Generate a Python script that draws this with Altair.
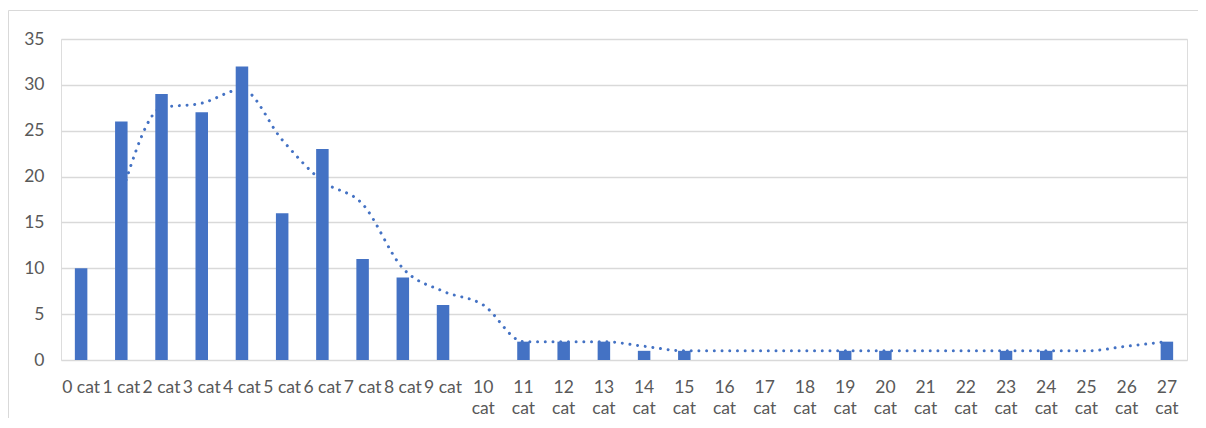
import altair as alt
import pandas as pd

categories = [f"{i} cat" for i in range(28)]
bar_values = [10, 26, 29, 27, 32, 16, 23, 11, 9, 6, None, 2, 2, 2, 1, 1,
              None, None, None, 1, 1, None, None, 1, 1, None, None, 2]
trend_values = [None, 18, 27.5, 28, 29.5, 24, 19.5, 17, 10, 7.5, 6, 2, 2, 2, 1.5, 1,
                1, 1, 1, 1, 1, 1, 1, 1, 1, 1, 1.5, 2]
y_ticks = [0, 5, 10, 15, 20, 25, 30, 35]

df = pd.DataFrame({"cat": categories, "value": bar_values, "trend": trend_values})

BLUE = "#4472C4"
GREY = "#595959"
GRID = "#d9d9d9"
FONT = "Lato"
FS = 17.5

x_enc = alt.X(
    "cat:N",
    sort=categories,
    title=None,
    axis=alt.Axis(
        labelAngle=0,
        labelFont=FONT,
        labelFontSize=FS,
        labelColor=GREY,
        labelPadding=18,
        labelLineHeight=21.5,
        labelBaseline="top",
        labelExpr="length(datum.label) > 5 ? split(datum.label, ' ') : datum.label",
        ticks=False,
        domain=False,
        grid=False,
    ),
)
y_scale = alt.Scale(domain=[0, 35], nice=False)

line = alt.Chart(df).mark_line(
    color=BLUE, strokeWidth=3, strokeDash=[0.01, 7.7], strokeCap="round",
    interpolate="monotone"
).encode(
    x=x_enc,
    y=alt.Y("trend:Q", scale=y_scale, title=None,
            axis=alt.Axis(values=y_ticks, labelFont=FONT, labelFontSize=FS,
                          labelColor=GREY, labelPadding=17, ticks=False,
                          domain=False, grid=True, gridColor=GRID, gridWidth=1.3)),
)

bars = alt.Chart(df).mark_bar(color=BLUE, size=12.5).encode(
    x=x_enc,
    y=alt.Y("value:Q", scale=y_scale),
)

frame_df = pd.DataFrame({"k": [0]})
frame_left = alt.Chart(frame_df).mark_rule(color=GRID, strokeWidth=1).encode(
    x=alt.value(-52.5), y=alt.value(-28.5), y2=alt.value(400)
)
frame_top = alt.Chart(frame_df).mark_rule(color=GRID, strokeWidth=1).encode(
    x=alt.value(-52.5), x2=alt.value(1140), y=alt.value(-28.5)
)

chart = alt.layer(frame_left, frame_top, line, bars).properties(
    width=1126,
    height=321,
    autosize=alt.AutoSizeParams(type="none"),
    padding={"left": 53, "top": 31, "right": 11, "bottom": 58},
).configure_view(stroke=None).configure(background="white")

chart.save("out.html", embed_options={"renderer": "svg", "actions": False})
